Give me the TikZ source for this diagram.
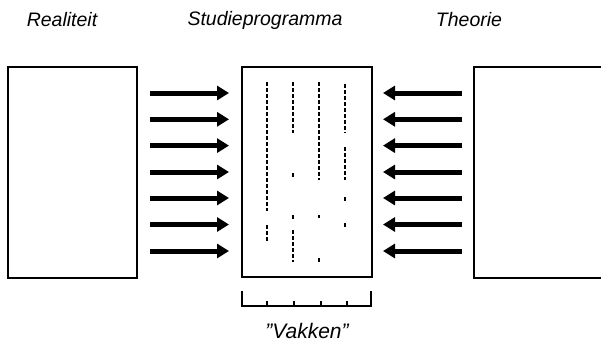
\documentclass[tikz,border=0pt]{standalone}
\usepackage{fontspec}
\setmainfont{Liberation Sans}
\usetikzlibrary{arrows.meta}

\begin{document}
\begin{tikzpicture}[x=1pt,y=-1pt,
  panel/.style={draw, line width=2pt, inner sep=0pt, outer sep=0pt, anchor=north west},
  title/.style={font=\fontsize{19.5}{22}\selectfont\itshape, inner sep=0pt},
  fatarrow/.style={line width=5pt, -{Triangle[length=12pt,width=14pt]}},
  column/.style={line width=1.4pt, dash pattern=on 3.5pt off 2.5pt},
  brk/.style={line width=2pt}]
\useasboundingbox (0,0) rectangle (601,343);

% three panels
\node[panel, minimum width=129pt, minimum height=211pt] (real) at (8,67) {};
\node[panel, minimum width=130pt, minimum height=210pt] (prog) at (242,67) {};
\node[panel, minimum width=128pt, minimum height=211pt] (theo) at (474,67) {};

% headings
\node[title] (treal) at (62,20) {Realiteit};
\node[title] (tprog) at (265,20) {Studieprogramma};
\node[title] (ttheo) at (469,20) {Theorie};

% arrows into the programme from both sides
\foreach \i/\y in {1/93,2/119.3,3/145.6,4/172,5/198,6/224.5,7/251} {
  \coordinate (la\i) at (150,\y);
  \coordinate (lb\i) at (229,\y);
  \coordinate (ra\i) at (462,\y);
  \coordinate (rb\i) at (383,\y);
  \draw[fatarrow] (la\i) -- (lb\i);
  \draw[fatarrow] (ra\i) -- (rb\i);
}

% broken lines inside the programme
\draw[column] (267,82) -- (267,211);
\draw[column] (267,225) -- (267,243);
\draw[column] (293,82) -- (293,133);
\draw[column] (293,173) -- (293,178);
\draw[column] (293,215) -- (293,220);
\draw[column] (293,230) -- (293,262);
\draw[column] (319,82) -- (319,180);
\draw[column] (319,215) -- (319,218);
\draw[column] (319,258) -- (319,262);
\draw[column] (345,84) -- (345,133);
\draw[column] (345,147) -- (345,180);
\draw[column] (345,197) -- (345,203);
\draw[column] (345,223) -- (345,227);

% bracket of subjects
\coordinate (bl) at (242,291);
\coordinate (br) at (371,291);
\draw[brk] (bl) -- (242,306) -- (371,306) -- (br);
\foreach \x in {267,294,321,347}
  \draw[brk] (\x,301) -- (\x,306);
\node[title, font=\fontsize{21}{24}\selectfont\itshape] (vak) at (307,331)
  {\symbol{"22}Vakken\symbol{"22}};
\end{tikzpicture}
\end{document}
